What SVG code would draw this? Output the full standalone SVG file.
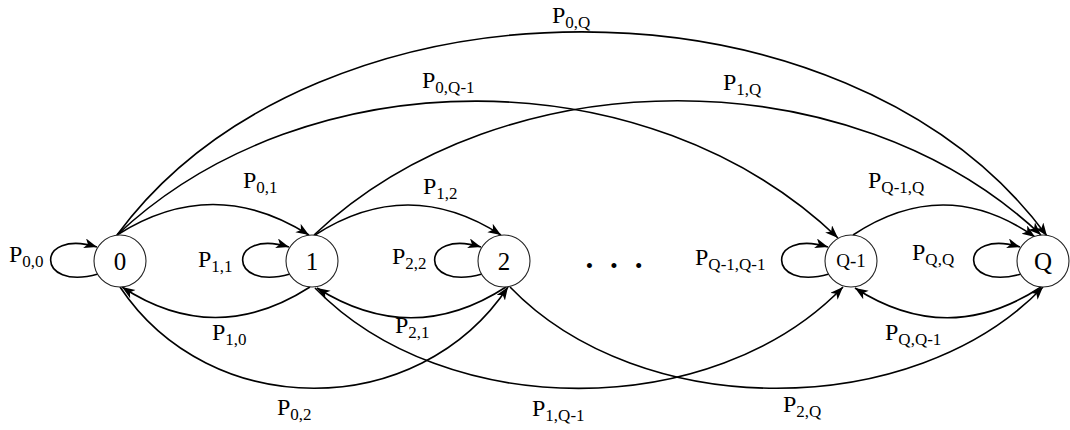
<svg xmlns="http://www.w3.org/2000/svg" width="1070" height="430" viewBox="0 0 1070 430" font-family="'Liberation Serif', 'DejaVu Serif', serif">
<defs>
<marker id="arr" markerWidth="15" markerHeight="11" refX="13" refY="5" orient="auto" markerUnits="userSpaceOnUse">
<path d="M0,0 L13,5 L0,10 L3.5,5 z" fill="#000"/>
</marker>
<style>
.node circle{fill:#fff;stroke:#222;stroke-width:1.1}
.node text{font-size:25px;text-anchor:middle;fill:#000}
.edge{fill:none;stroke:#000;stroke-width:1.6;marker-end:url(#arr)}
.lbl{font-size:24px;fill:#000}
.sub{font-size:17px}
</style>
</defs>
<rect width="1070" height="430" fill="#fff"/>
<g id="connectors">
<path class="edge" d="M98,274 C35,292 35,228 97,247"/>
<path class="edge" d="M290,274 C227,292 227,228 289,247"/>
<path class="edge" d="M482,274 C419,292 419,228 481,247"/>
<path class="edge" d="M829,274 C766,292 766,228 828,247"/>
<path class="edge" d="M1021,274 C958,292 958,228 1020,247"/>
<path class="edge" d="M117,235 Q213,174 309,235"/>
<path class="edge" d="M315,235 Q408,175 501,235"/>
<path class="edge" d="M853,235 Q945,174 1035,237"/>
<path class="edge" d="M117,235 C317,-36 847,-36 1047,236"/>
<path class="edge" d="M117,235 C307,56 648,56 838,238"/>
<path class="edge" d="M314,235 C504,56 851,56 1041,235"/>
<path class="edge" d="M310,287 Q215,348 122,287"/>
<path class="edge" d="M506,287 Q412,348 317,288"/>
<path class="edge" d="M1041,287 Q948,348 855,288"/>
<path class="edge" d="M120,287 C210,422 418,422 508,287"/>
<path class="edge" d="M315,288 C445,422 713,422 843,287"/>
<path class="edge" d="M510,287 C640,422 913,422 1043,287"/>
</g>
<g id="node-0" class="node"><circle cx="120" cy="261" r="26"/><text x="120" y="270">0</text></g>
<g id="node-1" class="node"><circle cx="312" cy="261" r="26"/><text x="312" y="270">1</text></g>
<g id="node-2" class="node"><circle cx="504" cy="261" r="26"/><text x="504" y="270">2</text></g>
<g id="node-Q-1" class="node"><circle cx="851" cy="261" r="26"/><text x="851" y="267" style="font-size:19px">Q-1</text></g>
<g id="node-Q" class="node"><circle cx="1043" cy="261" r="26"/><text x="1043" y="270">Q</text></g>
<g id="labels">
<text class="lbl" x="9" y="262">P<tspan class="sub" dy="5">0,0</tspan></text>
<text class="lbl" x="198" y="267">P<tspan class="sub" dy="5">1,1</tspan></text>
<text class="lbl" x="392" y="264">P<tspan class="sub" dy="5">2,2</tspan></text>
<text class="lbl" x="695" y="265">P<tspan class="sub" dy="5">Q-1,Q-1</tspan></text>
<text class="lbl" x="912" y="260">P<tspan class="sub" dy="5">Q,Q</tspan></text>
<text class="lbl" x="243" y="188">P<tspan class="sub" dy="5">0,1</tspan></text>
<text class="lbl" x="423" y="194">P<tspan class="sub" dy="5">1,2</tspan></text>
<text class="lbl" x="868" y="188">P<tspan class="sub" dy="5">Q-1,Q</tspan></text>
<text class="lbl" x="552" y="23">P<tspan class="sub" dy="5">0,Q</tspan></text>
<text class="lbl" x="422" y="88">P<tspan class="sub" dy="5">0,Q-1</tspan></text>
<text class="lbl" x="723" y="90">P<tspan class="sub" dy="5">1,Q</tspan></text>
<text class="lbl" x="212" y="340">P<tspan class="sub" dy="5">1,0</tspan></text>
<text class="lbl" x="395" y="333">P<tspan class="sub" dy="5">2,1</tspan></text>
<text class="lbl" x="885" y="340">P<tspan class="sub" dy="5">Q,Q-1</tspan></text>
<text class="lbl" x="277" y="415">P<tspan class="sub" dy="5">0,2</tspan></text>
<text class="lbl" x="532" y="416">P<tspan class="sub" dy="5">1,Q-1</tspan></text>
<text class="lbl" x="783" y="412">P<tspan class="sub" dy="5">2,Q</tspan></text>
<text x="614" y="273" style="font-size:21px;text-anchor:middle;word-spacing:12px">• • •</text>
</g>
</svg>
